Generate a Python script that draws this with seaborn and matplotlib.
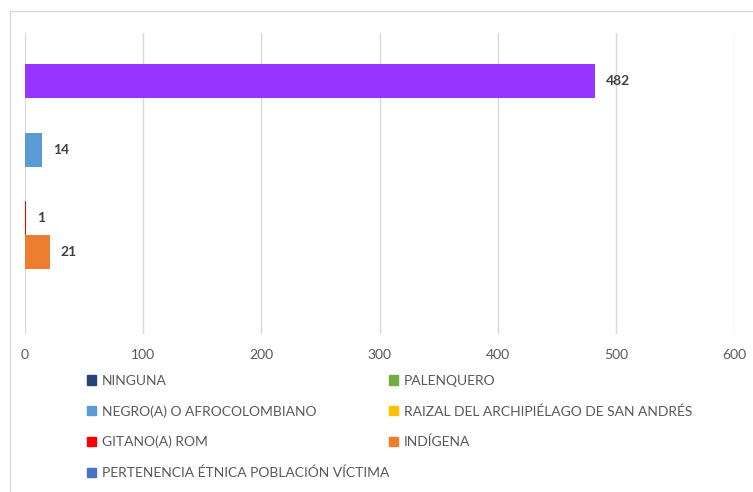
import pandas as pd
import seaborn as sns
import matplotlib.pyplot as plt
from matplotlib.patches import Patch
from matplotlib.lines import Line2D

# Data (top to bottom as drawn)
categorias = [
    "NINGUNA",
    "PALENQUERO",
    "NEGRO(A) O AFROCOLOMBIANO",
    "RAIZAL DEL ARCHIPIÉLAGO DE SAN ANDRÉS",
    "GITANO(A) ROM",
    "INDÍGENA",
    "PERTENENCIA ÉTNICA POBLACIÓN VÍCTIMA",
]
valores = [482, 0, 14, 0, 1, 21, 0]

# Bar colours (first bar recoloured purple in the original) and legend colours
colores_barra = ["#9933FF", "#70AD47", "#5B9BD5", "#FFC000", "#FF0000", "#ED7D31", "#4472C4"]
colores_leyenda = ["#264478", "#70AD47", "#5B9BD5", "#FFC000", "#FF0000", "#ED7D31", "#4472C4"]
ticks_x = [0, 100, 200, 300, 400, 500, 600]

df = pd.DataFrame({"categoria": categorias, "valor": valores})

sns.set_theme(style="white")
plt.rcParams["font.family"] = ["Lato", "DejaVu Sans"]

fig = plt.figure(figsize=(7.53, 4.92), dpi=100)
ax = fig.add_axes([25 / 753, 1 - 334 / 492, (734 - 25) / 753, (334 - 33) / 492])

sns.barplot(
    data=df, x="valor", y="categoria", hue="categoria",
    palette=colores_barra, saturation=1, width=1.0, orient="h",
    linewidth=0, legend=False, ax=ax,
)

# Value labels (only non-zero)
for cont in ax.containers:
    ax.bar_label(
        cont, fmt=lambda v: f"{v:.0f}" if v > 0 else "",
        padding=8, fontsize=10, fontweight="bold", color="#404040",
    )

ax.set_xlim(0, 600)
ax.set_ylim(7.39, -1.41)
ax.set_xticks(ticks_x)
ax.set_yticks([])
ax.set_xlabel("")
ax.set_ylabel("")
ax.grid(axis="x", color="#D9D9D9", linewidth=1.0)
ax.set_axisbelow(True)
sns.despine(ax=ax, left=True, bottom=True)
ax.tick_params(axis="x", length=0, pad=11, labelsize=10, labelcolor="#595959")

# Legend (2 columns, row-wise order like the original)
orden = [0, 2, 4, 6, 1, 3, 5]
handles = [Patch(color=colores_leyenda[i]) for i in orden]
labels = [categorias[i] for i in orden]
fig.legend(
    handles, labels, ncol=2, loc="upper left",
    bbox_to_anchor=(87 / 753, 1 - 375 / 492),
    frameon=False, fontsize=10, labelcolor="#595959",
    handlelength=0.65, handleheight=0.65, handletextpad=0.4,
    labelspacing=1.31, columnspacing=0.0, borderpad=0, borderaxespad=0,
)

# Chart area border (cropped screenshot)
fig.add_artist(Line2D([10 / 753, 1], [1 - 11 / 492] * 2, color="#D9D9D9", lw=1))
fig.add_artist(Line2D([10 / 753] * 2, [0, 1 - 11 / 492], color="#D9D9D9", lw=1))

fig.savefig("out.png", dpi=100)
